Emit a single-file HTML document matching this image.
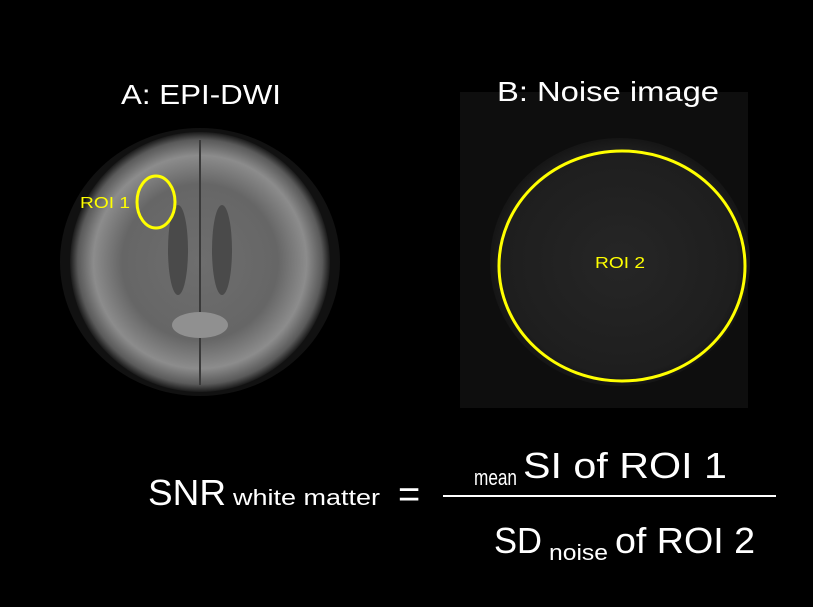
<!DOCTYPE html>
<html><head><style>
html,body{margin:0;padding:0;background:#000;}
svg{display:block;}
text{font-family:"Liberation Sans",sans-serif;}
</style></head><body>
<svg width="813" height="607" viewBox="0 0 813 607" xmlns="http://www.w3.org/2000/svg">
<defs>
<radialGradient id="brain" cx="50%" cy="50%" r="50%">
<stop offset="0" stop-color="#6e6e6e"/>
<stop offset="0.6" stop-color="#666"/>
<stop offset="0.82" stop-color="#8c8c8c"/>
<stop offset="0.94" stop-color="#5a5a5a"/>
<stop offset="1" stop-color="#1a1a1a"/>
</radialGradient>
<radialGradient id="noise" cx="50%" cy="50%" r="50%">
<stop offset="0" stop-color="#262626"/>
<stop offset="0.9" stop-color="#1e1e1e"/>
<stop offset="1" stop-color="#151515"/>
</radialGradient>
</defs>
<rect width="813" height="607" fill="#000"/>
<!-- brain -->
<ellipse cx="200" cy="262" rx="140" ry="134" fill="#111"/>
<ellipse cx="200" cy="262" rx="130" ry="130" fill="url(#brain)"/>
<line x1="200" y1="140" x2="200" y2="385" stroke="#3a3a3a" stroke-width="2"/>
<ellipse cx="178" cy="250" rx="10" ry="45" fill="#4a4a4a"/>
<ellipse cx="222" cy="250" rx="10" ry="45" fill="#4a4a4a"/>
<ellipse cx="200" cy="325" rx="28" ry="13" fill="#909090"/>
<ellipse cx="156" cy="202" rx="19" ry="26" fill="none" stroke="#ffff00" stroke-width="3"/>
<text x="80" y="208" fill="#ffff00" font-size="16" textLength="50" lengthAdjust="spacingAndGlyphs">ROI 1</text>
<text x="121" y="104" fill="#fff" font-size="28" textLength="160" lengthAdjust="spacingAndGlyphs">A: EPI-DWI</text>
<!-- noise -->
<rect x="460" y="92" width="288" height="316" fill="#0e0e0e"/>
<ellipse cx="620" cy="262" rx="130" ry="124" fill="url(#noise)"/>
<ellipse cx="622" cy="266" rx="123" ry="115" fill="none" stroke="#ffff00" stroke-width="3"/>
<text x="595" y="268" fill="#ffff00" font-size="16" textLength="50" lengthAdjust="spacingAndGlyphs">ROI 2</text>
<text x="497" y="101" fill="#fff" font-size="28" textLength="222" lengthAdjust="spacingAndGlyphs">B: Noise image</text>
<!-- formula -->
<text x="148" y="505" fill="#fff" font-size="36" textLength="78" lengthAdjust="spacingAndGlyphs">SNR</text>
<text x="233" y="505" fill="#fff" font-size="22" textLength="147" lengthAdjust="spacingAndGlyphs">white matter</text>
<text x="398" y="507" fill="#fff" font-size="38">=</text>
<line x1="443" y1="496" x2="776" y2="496" stroke="#fff" stroke-width="2"/>
<text x="474" y="485" fill="#fff" font-size="22" textLength="43" lengthAdjust="spacingAndGlyphs">mean</text>
<text x="523" y="478" fill="#fff" font-size="36" textLength="204" lengthAdjust="spacingAndGlyphs">SI of ROI 1</text>
<text x="494" y="553" fill="#fff" font-size="36" textLength="48" lengthAdjust="spacingAndGlyphs">SD</text>
<text x="549" y="560" fill="#fff" font-size="22" textLength="59" lengthAdjust="spacingAndGlyphs">noise</text>
<text x="615" y="553" fill="#fff" font-size="36" textLength="140" lengthAdjust="spacingAndGlyphs">of ROI 2</text>
</svg>
</body></html>
